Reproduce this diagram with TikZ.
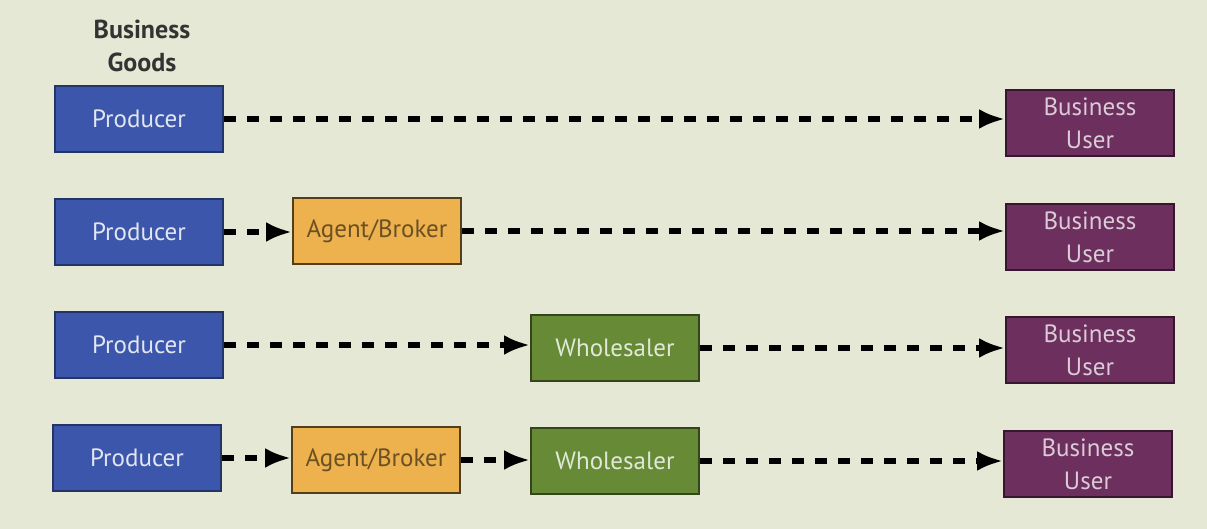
\documentclass[tikz,border=0pt]{standalone}
\usepackage{fontspec}
\setmainfont{PT Sans}
\usepackage{tikz}
\usetikzlibrary{positioning}
\usetikzlibrary{arrows.meta}

\definecolor{bgcol}{HTML}{E5E8D5}
\definecolor{prodcol}{HTML}{3B56AA}
\definecolor{agentcol}{HTML}{EDB14E}
\definecolor{wholecol}{HTML}{678A36}
\definecolor{usercol}{HTML}{6C2F5E}

\begin{document}
\begin{tikzpicture}[x=0.5pt,y=-0.5pt,
    channel/.style={
      % The shape:
      rectangle,minimum width=84pt,minimum height=33pt,
      align=center,font=\fontsize{12.5}{16.5}\selectfont,
      % Border
      line width=1pt
      },
    producer/.style={channel,fill=prodcol,draw=prodcol!60!black,text=white!85!prodcol},
    agent/.style={channel,fill=agentcol,draw=agentcol!35!black,text=agentcol!45!black},
    wholesaler/.style={channel,fill=wholecol,draw=wholecol!50!black,text=white!80!wholecol},
    user/.style={channel,fill=usercol,draw=usercol!50!black,text=white!75!usercol},
    flow/.style={line width=2.7pt,dash pattern=on 6pt off 5.5pt,
      -{Latex[length=13pt,width=10pt]}}]
  \useasboundingbox[fill=bgcol] (0,0) rectangle (1207,529);
  \node (title) at (142,46) [align=center,font=\fontsize{13}{16.5}\selectfont\bfseries,text=black!80] {Business\\Goods};
  % row 1
  \node (prod-1) at (139,119) [producer] {Producer};
  \node (user-1) at (1090,123) [user] {Business\\User};
  % row 2
  \node (prod-2) at (139,232) [producer] {Producer};
  \node (agent-2) at (377,231) [agent] {Agent/Broker};
  \node (user-2) at (1090,237) [user] {Business\\User};
  % row 3
  \node (prod-3) at (139,345) [producer] {Producer};
  \node (whole-3) at (615,348) [wholesaler] {Wholesaler};
  \node (user-3) at (1090,350) [user] {Business\\User};
  % row 4
  \node (prod-4) at (137,458) [producer] {Producer};
  \node (agent-4) at (376,460) [agent] {Agent/Broker};
  \node (whole-4) at (615,461) [wholesaler] {Wholesaler};
  \node (user-4) at (1088,464) [user] {Business\\User};
  \draw [flow] (prod-1) -- (prod-1 -| user-1.west);
  \draw [flow] (prod-2) -- (prod-2 -| agent-2.west);
  \draw [flow] (agent-2) -- (agent-2 -| user-2.west);
  \draw [flow] (prod-3) -- (prod-3 -| whole-3.west);
  \draw [flow] (whole-3) -- (whole-3 -| user-3.west);
  \draw [flow] (prod-4) -- (prod-4 -| agent-4.west);
  \draw [flow] (agent-4) -- (agent-4 -| whole-4.west);
  \draw [flow] (whole-4) -- (whole-4 -| user-4.west);
\end{tikzpicture}
\end{document}
